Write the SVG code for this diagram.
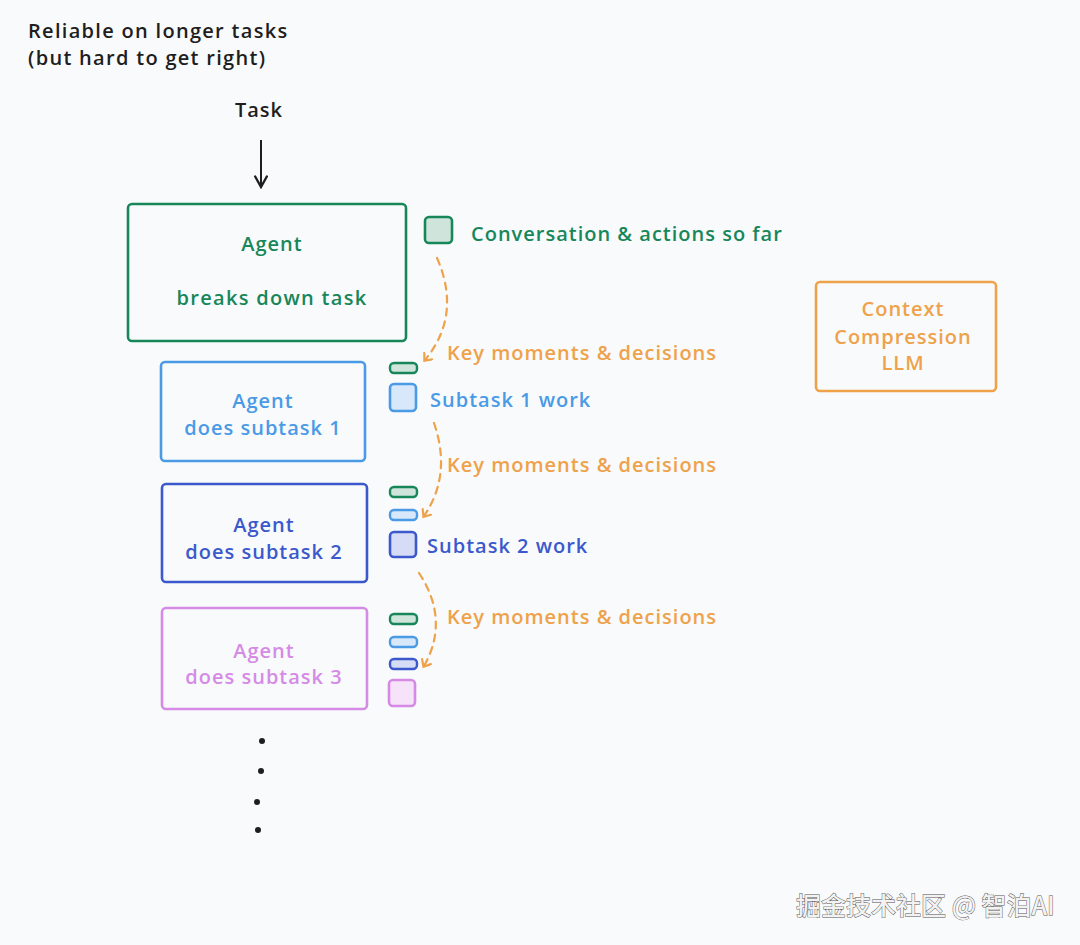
<svg xmlns="http://www.w3.org/2000/svg" width="1080" height="945" viewBox="0 0 1080 945">
<defs>
<style>
text{font-family:"Open Sans","Lato",sans-serif;font-weight:600;font-size:20px;letter-spacing:1px}
.k{fill:#1e1e1e}
.g{fill:#17875a}
.b{fill:#4a9ae6}
.d{fill:#3b59cc}
.p{fill:#d58be6}
.o{fill:#eea24a}
.box{stroke-width:2.6;rx:4}
.arc{fill:none;stroke:#eea24a;stroke-width:2.2;stroke-dasharray:7 6;stroke-linecap:round}
</style>
<marker id="ah" viewBox="0 0 12 12" refX="6" refY="6" markerWidth="12" markerHeight="12" markerUnits="userSpaceOnUse" orient="auto">
<path d="M1,1 L7,6 L1,11" fill="none" stroke="#eea24a" stroke-width="2.2" stroke-linecap="round"/>
</marker>
<marker id="bk" viewBox="0 0 12 12" refX="10" refY="6" markerWidth="14" markerHeight="14" markerUnits="userSpaceOnUse" orient="auto">
<path d="M1,1 L10,6 L1,11" fill="none" stroke="#1e1e1e" stroke-width="2" stroke-linecap="round"/>
</marker>
</defs>
<rect width="1080" height="945" fill="#f9fafc"/>

<g id="title">
<text class="k" x="28" y="38" style="letter-spacing:1.3px">Reliable on longer tasks</text>
<text class="k" x="28" y="65" style="letter-spacing:1.3px">(but hard to get right)</text>
</g>

<g id="task">
<text class="k" x="259" y="117" text-anchor="middle">Task</text>
</g>

<g id="connectors">
<line x1="261" y1="140" x2="261" y2="187" stroke="#1e1e1e" stroke-width="2" marker-end="url(#bk)"/>
<path class="arc" d="M437,258 Q462,315 425,360" marker-end="url(#ah)"/>
<path class="arc" d="M434,423 Q452,475 424,516" marker-end="url(#ah)"/>
<path class="arc" d="M419,573 Q450,620 424,666" marker-end="url(#ah)"/>
</g>

<g id="agent-main">
<rect class="box" x="128" y="204" width="278" height="137" fill="none" stroke="#17875a"/>
<text class="g" x="272" y="251" text-anchor="middle">Agent</text>
<text class="g" x="272" y="305" text-anchor="middle" style="letter-spacing:1.3px">breaks down task</text>
</g>

<g id="conversation">
<rect x="425" y="217" width="27" height="26" rx="4" fill="#cfe5dc" stroke="#17875a" stroke-width="2.6"/>
<text class="g" x="471" y="241">Conversation &amp; actions so far</text>
</g>

<g id="compression">
<rect class="box" x="816" y="282" width="180" height="109" fill="none" stroke="#eea24a"/>
<text class="o" x="903" y="316" text-anchor="middle">Context</text>
<text class="o" x="903" y="344" text-anchor="middle">Compression</text>
<text class="o" x="903" y="370" text-anchor="middle">LLM</text>
</g>

<g id="agent-1">
<rect class="box" x="161" y="362" width="204" height="99" fill="none" stroke="#4a9ae6"/>
<text class="b" x="263" y="408" text-anchor="middle">Agent</text>
<text class="b" x="263" y="435" text-anchor="middle">does subtask 1</text>
</g>

<g id="context-1">
<text class="o" x="447" y="360">Key moments &amp; decisions</text>
<rect x="390" y="363" width="27" height="10" rx="4" fill="#cfe5dc" stroke="#17875a" stroke-width="2.4"/>
<rect x="390" y="384" width="26" height="27" rx="4" fill="#d7e8fa" stroke="#4a9ae6" stroke-width="2.6"/>
<text class="b" x="430" y="407">Subtask 1 work</text>
</g>

<g id="agent-2">
<rect class="box" x="162" y="484" width="205" height="98" fill="none" stroke="#3b59cc"/>
<text class="d" x="264" y="532" text-anchor="middle">Agent</text>
<text class="d" x="264" y="559" text-anchor="middle">does subtask 2</text>
</g>

<g id="context-2">
<text class="o" x="447" y="472">Key moments &amp; decisions</text>
<rect x="390" y="487" width="27" height="10" rx="4" fill="#cfe5dc" stroke="#17875a" stroke-width="2.4"/>
<rect x="390" y="510" width="27" height="10" rx="4" fill="#d7e8fa" stroke="#4a9ae6" stroke-width="2.4"/>
<rect x="390" y="532" width="26" height="25" rx="4" fill="#d6dcf5" stroke="#3b59cc" stroke-width="2.6"/>
<text class="d" x="427" y="553">Subtask 2 work</text>
</g>

<g id="agent-3">
<rect class="box" x="162" y="608" width="205" height="101" fill="none" stroke="#d58be6"/>
<text class="p" x="264" y="658" text-anchor="middle">Agent</text>
<text class="p" x="264" y="684" text-anchor="middle">does subtask 3</text>
</g>

<g id="context-3">
<text class="o" x="447" y="624">Key moments &amp; decisions</text>
<rect x="390" y="614" width="27" height="10" rx="4" fill="#cfe5dc" stroke="#17875a" stroke-width="2.4"/>
<rect x="390" y="637" width="27" height="10" rx="4" fill="#d7e8fa" stroke="#4a9ae6" stroke-width="2.4"/>
<rect x="390" y="659" width="27" height="10" rx="4" fill="#d6dcf5" stroke="#3b59cc" stroke-width="2.4"/>
<rect x="389" y="680" width="26" height="26" rx="4" fill="#f6e2f9" stroke="#d58be6" stroke-width="2.6"/>
</g>

<g id="ellipsis" fill="#1e1e1e">
<circle cx="262" cy="741" r="3"/>
<circle cx="261" cy="771" r="3"/>
<circle cx="257" cy="802" r="3"/>
<circle cx="258" cy="830" r="3"/>
</g>

<g id="watermark">
<text x="796" y="915" style="font-family:'Noto Sans CJK SC',sans-serif;font-size:25px;font-weight:500;letter-spacing:0" fill="#f2f2f2" stroke="#555" stroke-width="0.9" paint-order="stroke">掘金技术社区 @ 智泊AI</text>
</g>
</svg>
